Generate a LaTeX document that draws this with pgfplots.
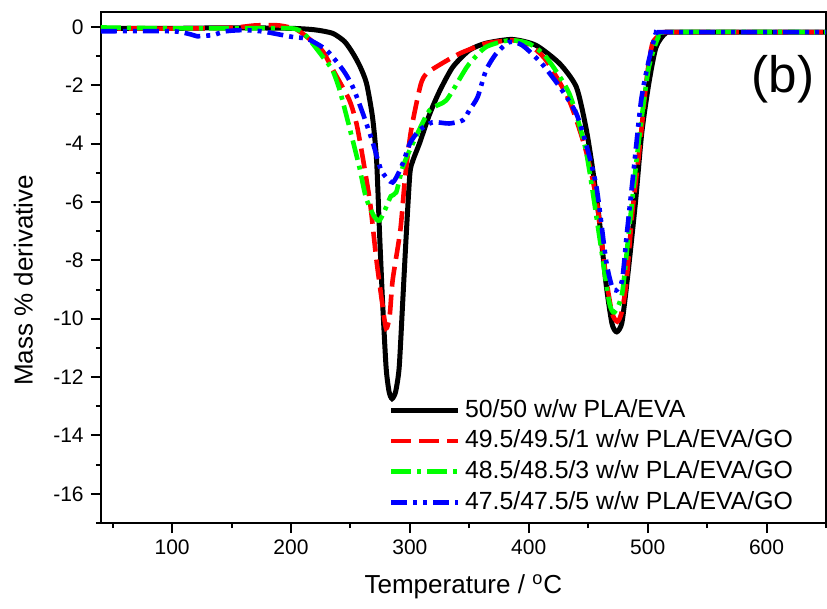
\documentclass[border=0pt]{standalone}
\usepackage{pgfplots}
\pgfplotsset{compat=1.18}
\usepackage{fontspec}
\setmainfont{Liberation Sans}

% DTG curves (T in degC, mass % derivative)
\pgfplotstableread{
T      d
40    -0.05
100   -0.05
150   -0.03
200   -0.05
220   -0.10
235   -0.22
245   -0.50
252   -0.90
258   -1.35
263.5 -1.93
268.6 -3.10
272   -4.58
274.5 -7.08
277   -9.40
280   -11.67
282.5 -12.50
285   -12.74
288   -12.50
291   -11.67
294   -9.40
297   -7.08
300   -5.03
302.5 -4.58
308   -4.00
316.5 -3.00
325   -2.20
336   -1.38
350   -0.80
364   -0.56
386   -0.43
406   -0.63
426   -1.26
440   -2.06
448   -3.43
453.5 -4.81
459   -6.50
465   -8.80
470   -10.17
474   -10.45
478.5 -10.10
484   -8.24
490   -5.90
495   -3.65
501   -1.93
507   -0.70
515   -0.22
526   -0.18
650   -0.18
}\neat

\pgfplotstableread{
T      d
40    -0.05
100   -0.06
150   -0.03
170    0.05
190    0.05
205   -0.10
218   -0.50
227   -0.85
235   -1.45
249   -2.50
255   -3.30
260   -4.39
266.6 -6.05
271.7 -7.93
276.6 -9.43
280   -10.33
283   -9.90
285.5 -8.68
292   -6.96
296   -5.15
301   -3.55
309   -1.99
314   -1.60
325   -1.30
342   -0.91
364   -0.57
386   -0.46
400   -0.60
414.5 -1.14
434   -2.52
448   -4.23
457   -5.94
465   -8.58
470   -9.80
474.5 -10.10
478   -9.80
482   -8.80
487   -6.40
493   -4.23
499   -1.83
504   -0.57
512   -0.23
520   -0.18
650   -0.18
}\goone

\pgfplotstableread{
T      d
40    -0.02
100   -0.05
150   -0.05
200   -0.05
210   -0.20
216   -0.46
227   -1.04
235   -1.49
241   -2.17
247   -3.10
252   -3.90
257.5 -4.80
263   -5.84
270   -6.50
274.5 -6.63
280   -6.18
284   -5.80
288.5 -5.67
294   -4.80
302.5 -3.99
316.5 -2.86
330.5 -2.52
344.5 -1.60
350   -1.26
364   -0.69
383.5 -0.46
400   -0.57
414.5 -1.03
434   -2.28
448   -4.23
459   -7.08
467.5 -9.40
472   -9.78
478.5 -9.14
484   -7.08
490   -4.80
495   -3.10
501   -1.38
509   -0.35
518   -0.18
650   -0.18
}\gothree

\pgfplotstableread{
T      d
40    -0.15
100   -0.15
115   -0.25
121   -0.32
128   -0.30
134.5 -0.28
145   -0.15
160   -0.11
175   -0.15
185   -0.22
202   -0.35
210   -0.38
216   -0.45
230   -0.80
244   -1.49
252   -2.06
260.5 -2.97
269   -3.99
276   -4.92
285.5 -5.33
294   -4.68
300   -3.99
308   -3.54
319   -3.27
333   -3.31
344.5 -3.20
350   -2.86
357   -2.40
364   -1.49
372.5 -0.92
383.5 -0.52
394.5 -0.63
411   -1.26
428   -2.17
440   -2.97
448   -3.99
457   -5.50
465   -8.00
470   -8.90
473.5 -9.03
478.5 -8.69
482.5 -7.08
488.5 -4.80
494.5 -2.52
501   -1.14
507   -0.23
512   -0.18
650   -0.18
}\gofive

\begin{document}
\begin{tikzpicture}
\begin{axis}[
    scale only axis,
    width=362.4pt,
    height=255.2pt,
    xmin=40, xmax=650,
    ymin=-17, ymax=0.5,
    xtick={100,200,...,600},
    minor xtick={50,150,...,650},
    ytick={-16,-14,...,0},
    minor ytick={-17,-15,...,-1},
    tick align=outside,
    xtick pos=bottom,
    ytick pos=left,
    major tick length=5pt,
    minor tick length=2.5pt,
    every tick/.style={black, line width=1pt},
    axis line style={line width=1pt},
    /pgf/number format/assume math mode=true,
    ticklabel style={font=\fontsize{10.5}{12}\selectfont},
    xlabel={Temperature / \textsuperscript{o}C},
    ylabel={Mass \% derivative},
    label style={font=\fontsize{13}{15}\selectfont},
    xlabel style={at={(axis description cs:0.5,0)}, anchor=center, yshift=-31.7pt},
    ylabel style={at={(axis description cs:-0.1068,0.475)}, anchor=center},
    legend cell align=left,
    legend style={draw=none, fill=none, at={(0.3964,0.2522)}, anchor=north west,
        inner sep=0pt, row sep=0pt,
        font=\fontsize{12.4}{14}\selectfont,
        nodes={text height=9pt, text depth=2pt, inner sep=2.2pt}},
    legend image code/.code={\draw[#1] (0pt,0pt) -- (33.5pt,0pt);},
    every axis plot/.append style={line width=2.3pt, smooth, tension=0.4},
]
\addplot[black, line width=2.5pt] table[x=T, y=d] {\neat};
\addplot[red, dash pattern=on 10pt off 4pt] table[x=T, y=d] {\goone};
\addplot[green, dash pattern=on 10pt off 3pt on 2pt off 3pt] table[x=T, y=d] {\gothree};
\addplot[blue, dash pattern=on 8pt off 3pt on 2pt off 3pt on 2pt off 3pt] table[x=T, y=d] {\gofive};
\legend{50/50 w/w PLA/EVA, 49.5/49.5/1 w/w PLA/EVA/GO, 48.5/48.5/3 w/w PLA/EVA/GO, 47.5/47.5/5 w/w PLA/EVA/GO}
\node[font=\fontsize{25.6}{30}\selectfont] at (axis cs:614,-1.8) {(b)};
\end{axis}
\pgfresetboundingbox
\path (current axis.south west) ++(-50.35pt,-42.65pt) rectangle ([xshift=0.5pt, yshift=6.15pt]current axis.north east);
\end{tikzpicture}
\end{document}
